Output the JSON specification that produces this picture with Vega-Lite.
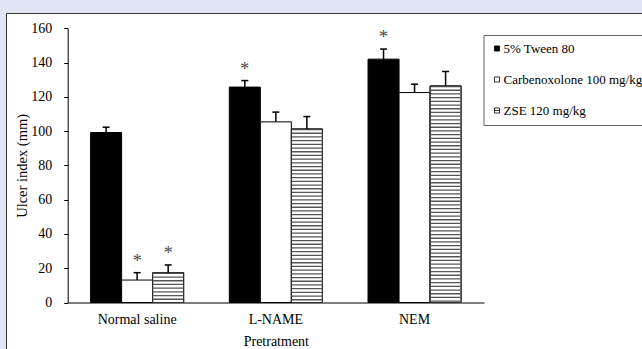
{
  "$schema": "https://vega.github.io/schema/vega-lite/v6.json",
  "autosize": {"type": "none"},
  "width": 636,
  "height": 336,
  "padding": {"left": 6, "top": 13, "right": 0, "bottom": 0},
  "background": "#e1e4f1",
  "config": {
    "font": "Liberation Serif",
    "view": {"stroke": "#333333", "strokeWidth": 1, "fill": "white"}
  },
  "data": {
    "values": [
      {"group": "Normal saline", "treatment": "5% Tween 80", "value": 99.2, "err": 102.3, "star": ""},
      {"group": "Normal saline", "treatment": "Carbenoxolone 100 mg/kg", "value": 13.1, "err": 17.4, "star": "*"},
      {"group": "Normal saline", "treatment": "ZSE 120 mg/kg", "value": 17.4, "err": 21.9, "star": "*"},
      {"group": "L-NAME", "treatment": "5% Tween 80", "value": 125.7, "err": 129.5, "star": "*"},
      {"group": "L-NAME", "treatment": "Carbenoxolone 100 mg/kg", "value": 105.4, "err": 111.1, "star": ""},
      {"group": "L-NAME", "treatment": "ZSE 120 mg/kg", "value": 101.3, "err": 108.5, "star": ""},
      {"group": "NEM", "treatment": "5% Tween 80", "value": 142.0, "err": 147.9, "star": "*"},
      {"group": "NEM", "treatment": "Carbenoxolone 100 mg/kg", "value": 122.5, "err": 127.4, "star": ""},
      {"group": "NEM", "treatment": "ZSE 120 mg/kg", "value": 126.4, "err": 134.8, "star": ""}
    ]
  },
  "encoding": {
    "x": {
      "field": "group", "type": "nominal", "sort": ["Normal saline", "L-NAME", "NEM"],
      "scale": {"range": [61.7, 478], "paddingInner": 0.329, "paddingOuter": 0.165},
      "axis": {
        "title": "Pretratment", "labelAngle": 0, "ticks": false, "tickSize": 0,
        "offset": -46.5, "domainColor": "black", "domainWidth": 1,
        "labelFont": "Liberation Serif", "labelFontSize": 14, "labelColor": "black", "labelPadding": 10,
        "titleFont": "Liberation Serif", "titleFontSize": 14, "titleFontWeight": "normal", "titleColor": "black", "titlePadding": 8
      }
    },
    "xOffset": {
      "field": "treatment", "type": "nominal",
      "sort": ["5% Tween 80", "Carbenoxolone 100 mg/kg", "ZSE 120 mg/kg"],
      "scale": {"paddingInner": 0, "paddingOuter": 0}
    }
  },
  "layer": [
    {
      "mark": {"type": "bar", "stroke": "black", "strokeWidth": 1},
      "encoding": {
        "y": {
          "field": "value", "type": "quantitative",
          "scale": {"domain": [0, 160], "range": [289.5, 15.3], "nice": false, "zero": true},
          "axis": {
            "title": "Ulcer index (mm)", "values": [0, 20, 40, 60, 80, 100, 120, 140, 160],
            "grid": false, "offset": -61.7, "tickSize": 4, "tickColor": "black", "domainColor": "black",
            "labelFont": "Liberation Serif", "labelFontSize": 14, "labelColor": "black", "labelPadding": 12,
            "titleFont": "Liberation Serif", "titleFontSize": 14.5, "titleFontWeight": "normal", "titleColor": "black", "titlePadding": 1
          }
        },
        "fill": {
          "field": "treatment", "type": "nominal",
          "scale": {"domain": ["5% Tween 80", "Carbenoxolone 100 mg/kg", "ZSE 120 mg/kg"], "range": ["black", "white", "white"]},
          "legend": {
            "title": "\u00a0\u00a0\u00a0\u00a0\u00a0\u00a0", "titleOrient": "right", "titlePadding": 4, "titleFontSize": 14,
            "orient": "none", "legendX": 477.5, "legendY": 22,
            "padding": 7, "rowPadding": 17, "fillColor": "white", "strokeColor": "#666666",
            "symbolType": "square", "symbolSize": 26, "symbolStrokeColor": "black", "symbolStrokeWidth": 0.8,
            "labelFont": "Liberation Serif", "labelFontSize": 13, "labelColor": "black", "labelOffset": 0, "labelLimit": 300,
            "encode": {
              "symbols": {
                "update": {
                  "shape": {"signal": "datum.value === 'ZSE 120 mg/kg' ? 'M-1,-1H1V1H-1ZM-1,0H1' : 'square'"}
                }
              }
            }
          }
        }
      }
    },
    {
      "transform": [{"filter": "datum.treatment === 'ZSE 120 mg/kg'"}],
      "mark": {"type": "rule", "stroke": "#555555", "strokeWidth": 30, "strokeDash": [1.3, 2.4], "strokeCap": "butt"},
      "encoding": {
        "y": {"field": "value", "type": "quantitative"},
        "y2": {"datum": 0}
      }
    },
    {
      "transform": [{"filter": "datum.treatment === 'ZSE 120 mg/kg'"}],
      "mark": {"type": "bar", "fill": null, "fillOpacity": 0, "stroke": "#333333", "strokeWidth": 1},
      "encoding": {
        "y": {"field": "value", "type": "quantitative"}
      }
    },
    {
      "mark": {"type": "rule", "stroke": "black", "strokeWidth": 1.5},
      "encoding": {
        "y": {"field": "value", "type": "quantitative"},
        "y2": {"field": "err"}
      }
    },
    {
      "mark": {"type": "tick", "color": "black", "size": 7, "thickness": 1.5, "opacity": 1},
      "encoding": {
        "y": {"field": "err", "type": "quantitative"}
      }
    },
    {
      "mark": {"type": "text", "font": "Liberation Serif", "fontSize": 18, "color": "#4a4a44", "baseline": "middle", "dy": -11},
      "encoding": {
        "y": {"field": "err", "type": "quantitative"},
        "text": {"field": "star"}
      }
    }
  ]
}
